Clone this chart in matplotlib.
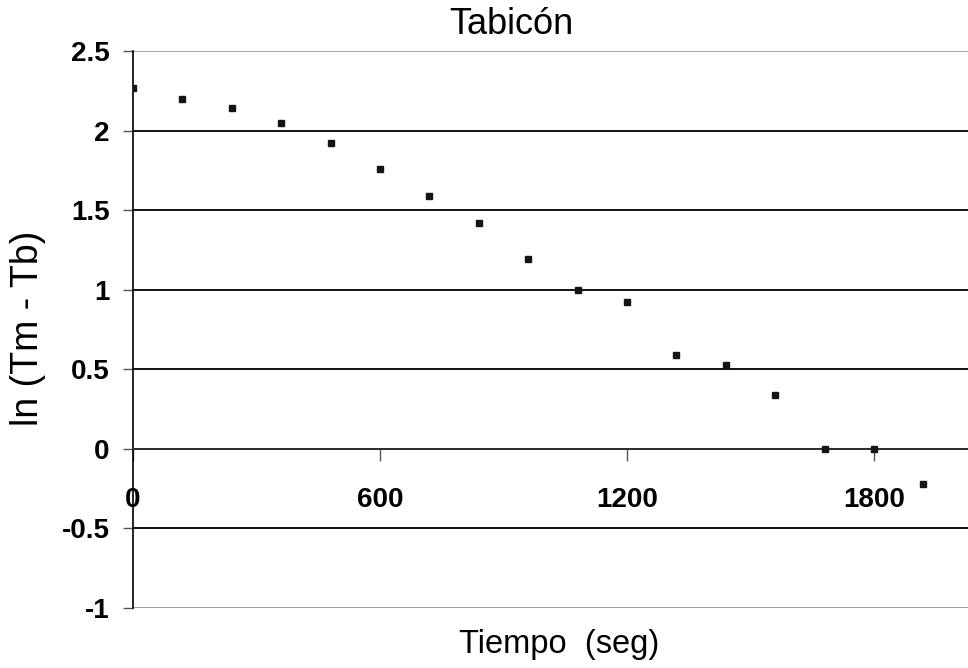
import numpy as np
import matplotlib.pyplot as plt

# tiempo (s) vs ln(Tm - Tb)
tiempo = [0, 120, 240, 360, 480, 600, 720, 840, 960, 1080, 1200, 1320, 1440, 1560, 1680, 1800, 1920]
ln_dif = [2.27, 2.20, 2.14, 2.05, 1.92, 1.76, 1.59, 1.42, 1.19, 1.00, 0.92, 0.59, 0.53, 0.34, 0.0, 0.0, -0.22]

x_ticks = [0, 600, 1200, 1800]
y_ticks = [-1, -0.5, 0, 0.5, 1, 1.5, 2, 2.5]

plt.rcParams['font.family'] = ['Liberation Sans', 'DejaVu Sans']

W, H = 968, 668
fig = plt.figure(figsize=(W / 100, H / 100), dpi=100)
ax = fig.add_axes([133 / W, 60 / H, (W - 133) / W, 557 / H])

ax.set_xlim(0, 835 / 247 * 600)
ax.set_ylim(-1, 2.5)

# horizontal lines, extremes in grey
for yv in y_ticks:
    c = '#999999' if yv in (-1, 2.5) else 'black'
    ax.axhline(yv, color=c, lw=1.3, zorder=1)

ax.plot(tiempo, ln_dif, ls='none', marker='s', ms=5, color='#151515', zorder=3)

ax.spines['top'].set_visible(False)
ax.spines['right'].set_visible(False)
ax.spines['left'].set_linewidth(1.2)
ax.spines['bottom'].set_position(('data', 0))
ax.spines['bottom'].set_linewidth(1.2)
ax.spines['bottom'].set_color('#333333')

ax.set_xticks(x_ticks)
ax.set_xticklabels([str(v) for v in x_ticks], fontsize=20, fontweight='bold')
ax.set_yticks(y_ticks)
ax.set_yticklabels(['%g' % v for v in y_ticks], fontsize=20, fontweight='bold')
ax.tick_params(axis='x', direction='out', length=8.5, width=1, pad=19, color='#555555')
ax.tick_params(axis='y', direction='out', length=7, width=1, pad=10, color='#555555')

fig.text(511 / W, 1 - 24 / H, 'Tabicón', ha='center', va='center', fontsize=26)
fig.text(559 / W, 1 - 645 / H, 'Tiempo  (seg)', ha='center', va='center', fontsize=23.5)
fig.text(28 / W, 1 - 328 / H, 'ln (Tm - Tb)', ha='center', va='center', fontsize=27, rotation=90)

fig.savefig('out.png', dpi=100)
